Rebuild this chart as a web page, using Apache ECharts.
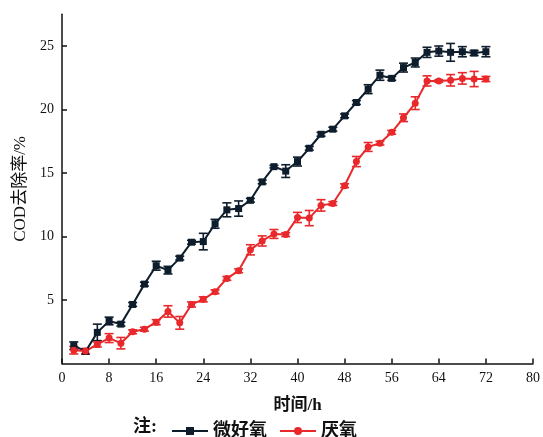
<!DOCTYPE html>
<html><head><meta charset="utf-8">
<script src="https://cdn.jsdelivr.net/npm/echarts@6/dist/echarts.min.js"></script>
<style>html,body{margin:0;padding:0;background:#fff}#c{width:543px;height:437px}</style>
</head><body><div id="c"></div>
<script>
const times = [2,4,6,8,10,12,14,16,18,20,22,24,26,28,30,32,34,36,38,40,42,44,46,48,50,52,54,56,58,60,62,64,66,68,70,72];
const microAerobic = [1.4,0.95,2.45,3.35,3.1,4.65,6.25,7.7,7.35,8.3,9.55,9.6,11.0,12.1,12.2,12.85,14.3,15.5,15.15,15.9,16.95,18.05,18.45,19.5,20.55,21.6,22.7,22.45,23.3,23.7,24.5,24.6,24.5,24.55,24.45,24.55];
const microAerobicErr = [0.3,0.2,0.65,0.3,0.15,0.15,0.15,0.35,0.3,0.15,0.15,0.65,0.35,0.55,0.6,0.15,0.15,0.1,0.5,0.35,0.15,0.15,0.15,0.15,0.15,0.35,0.4,0.15,0.35,0.35,0.4,0.4,0.7,0.4,0.2,0.4];
const anaerobic = [1.05,0.98,1.5,2.0,1.6,2.5,2.7,3.25,4.1,3.2,4.65,5.05,5.65,6.7,7.3,8.95,9.65,10.2,10.15,11.5,11.45,12.45,12.6,14.0,15.9,17.05,17.35,18.2,19.35,20.5,22.25,22.25,22.3,22.45,22.4,22.4];
const anaerobicErr = [0.3,0.2,0.2,0.35,0.45,0.15,0.15,0.2,0.45,0.5,0.2,0.2,0.15,0.15,0.15,0.4,0.4,0.35,0.15,0.4,0.6,0.45,0.15,0.15,0.4,0.35,0.15,0.15,0.3,0.5,0.4,0.1,0.45,0.45,0.6,0.2];
const seriesNames = ['微好氧','厌氧'];
const colors = ['#0e1d2c','#e8282b'];

const chart = echarts.init(document.getElementById('c'));
function errData(vals, errs){ return times.map((t,i)=>[t, vals[i]-errs[i], vals[i]+errs[i]]); }
function errSeries(vals, errs, color){
  return {
    type:'custom', silent:true, z:3,
    data: errData(vals, errs),
    encode:{x:0,y:[1,2]},
    renderItem:function(params, api){
      const x = api.value(0);
      const lo = api.coord([x, api.value(1)]);
      const hi = api.coord([x, api.value(2)]);
      const w = 4.5;
      const st = {stroke:color, lineWidth:1.6};
      return {type:'group', children:[
        {type:'line', shape:{x1:lo[0],y1:lo[1],x2:hi[0],y2:hi[1]}, style:st},
        {type:'line', shape:{x1:lo[0]-w,y1:lo[1],x2:lo[0]+w,y2:lo[1]}, style:st},
        {type:'line', shape:{x1:hi[0]-w,y1:hi[1],x2:hi[0]+w,y2:hi[1]}, style:st}
      ]};
    }
  };
}
const serif = '"Liberation Serif","Times New Roman","Noto Sans CJK SC",serif';
chart.setOption({
  animation:false,
  backgroundColor:'#fff',
  grid:{left:62,right:10,top:14.25,bottom:73.5},
  xAxis:{
    type:'value', min:0, max:80, interval:8,
    name:'时间/h', nameLocation:'middle', nameGap:34,
    nameTextStyle:{fontFamily:serif, fontSize:17, fontWeight:'bold', color:'#111'},
    axisLine:{show:true, lineStyle:{color:'#111', width:1.5}},
    axisTick:{show:true, inside:true, length:5, lineStyle:{color:'#111', width:1.5}},
    axisLabel:{fontFamily:serif, fontSize:14, color:'#111', margin:8},
    splitLine:{show:false}
  },
  yAxis:{
    type:'value', min:0, max:27.5, interval:5,
    name:'COD去除率/%', nameLocation:'middle', nameGap:33, nameRotate:90,
    nameTextStyle:{fontFamily:serif, fontSize:17, color:'#111'},
    axisLine:{show:true, lineStyle:{color:'#111', width:1.5}},
    axisTick:{show:true, inside:true, length:5, lineStyle:{color:'#111', width:1.5}},
    axisLabel:{fontFamily:serif, fontSize:14, color:'#111', margin:8, showMinLabel:false, showMaxLabel:false},
    splitLine:{show:false}
  },
  legend:{
    top:417, left:166, itemWidth:36, itemHeight:10, itemGap:12,
    textStyle:{fontFamily:serif, fontSize:18, fontWeight:'bold', color:'#111'},
    data:seriesNames
  },
  graphic:[{type:'text', left:133, top:418, style:{text:'注:', font:'bold 18px '+serif, fill:'#111'}}],
  series:[
    {name:seriesNames[0], type:'line', data:times.map((t,i)=>[t,microAerobic[i]]), symbol:'rect', symbolSize:7,
     itemStyle:{color:colors[0]}, lineStyle:{color:colors[0], width:2}, z:4},
    {name:seriesNames[1], type:'line', data:times.map((t,i)=>[t,anaerobic[i]]), symbol:'circle', symbolSize:7,
     itemStyle:{color:colors[1]}, lineStyle:{color:colors[1], width:2}, z:4},
    errSeries(microAerobic, microAerobicErr, colors[0]),
    errSeries(anaerobic, anaerobicErr, colors[1])
  ]
});
</script></body></html>
